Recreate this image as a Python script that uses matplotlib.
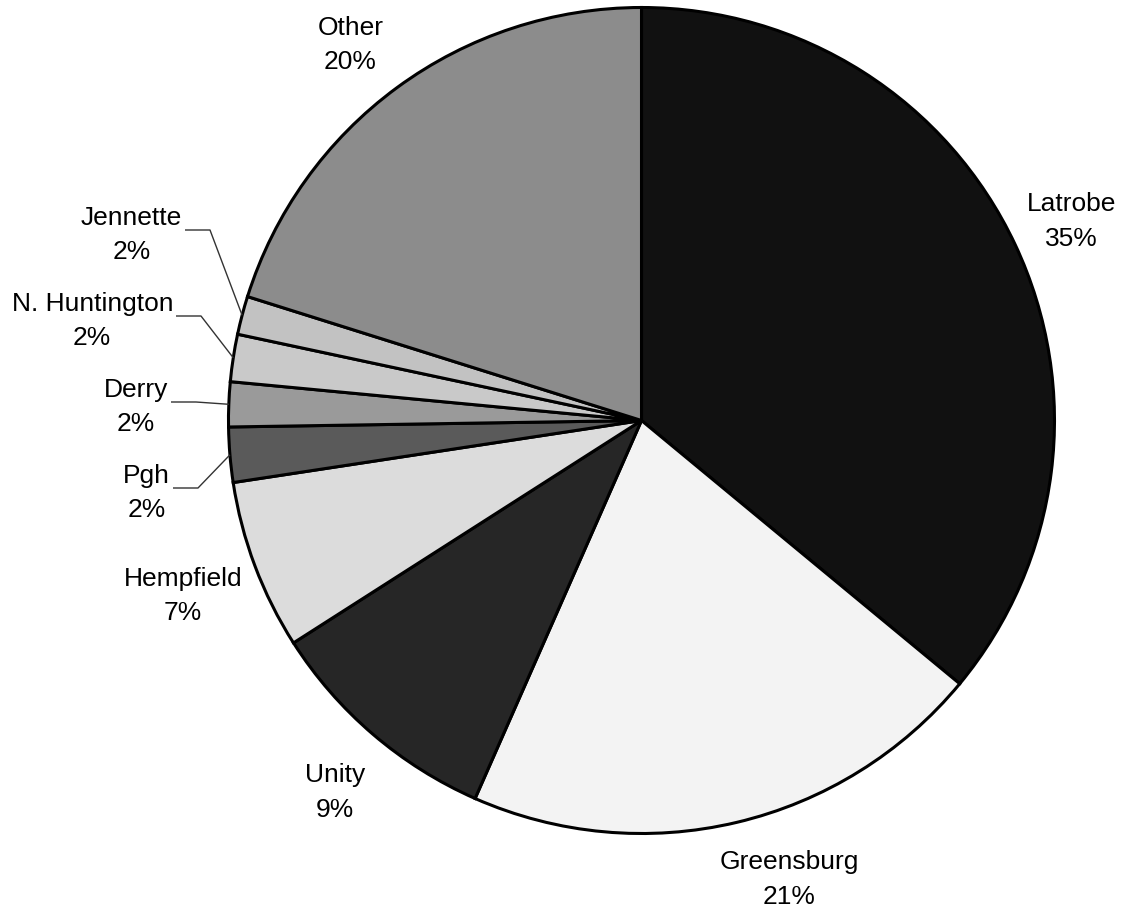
import numpy as np
import matplotlib
matplotlib.use("Agg")
import matplotlib.pyplot as plt

# share of customers by town (slice order, clockwise from 12 o'clock)
towns = ["Latrobe", "Greensburg", "Unity", "Hempfield", "Pgh", "Derry",
         "N. Huntington", "Jennette", "Other"]
shares = [36.0, 20.6, 9.35, 6.65, 2.15, 1.75, 1.85, 1.5, 20.15]
pct_labels = ["35%", "21%", "9%", "7%", "2%", "2%", "2%", "2%", "20%"]
fills = ["#111111", "#f3f3f3", "#262626", "#dcdcdc", "#5a5a5a", "#9a9a9a",
         "#c9c9c9", "#c2c2c2", "#8c8c8c"]

W, H = 1121, 907
cx, cy, R = 641.5, H - 420.5, 413

plt.rcParams["font.family"] = ["Liberation Sans", "DejaVu Sans"]

fig = plt.figure(figsize=(W / 100, H / 100), dpi=100)
ax = fig.add_axes([0, 0, 1, 1])

wedges, _ = ax.pie(shares, colors=fills, startangle=90, counterclock=False,
                   center=(cx, cy), radius=R,
                   wedgeprops=dict(edgecolor="black", linewidth=2.2))

ax.set_xlim(0, W)
ax.set_ylim(0, H)
ax.set_aspect("equal")
ax.axis("off")

fs = 19
ls = 1.55
# outer labels: radius factor and a small pixel nudge (dx, dy up)
big = {0: (1.15, 0, -3), 1: (1.16, 37, 7), 2: (1.16, 5, -8),
       3: (1.186, 0, -3), 8: (1.155, -9, -9)}
# small left labels with leader lines: right edge of text, leader y (pixels from top)
small = {4: (170, 488), 5: (168, 402), 6: (173, 316), 7: (182, 230)}

for i, w in enumerate(wedges):
    mid = np.deg2rad((w.theta1 + w.theta2) / 2)
    ux, uy = np.cos(mid), np.sin(mid)
    text = towns[i] + "\n" + pct_labels[i]
    if i in big:
        f, dx, dy = big[i]
        ax.text(cx + f * R * ux + dx, cy + f * R * uy + dy, text,
                ha="center", va="center", fontsize=fs, linespacing=ls)
    else:
        right, ly = small[i]
        ly = H - ly
        # va=baseline sits on the last line; leader runs just under the first line
        ax.text(right, ly + 6 - 35, text, ha="right", va="baseline",
                multialignment="center", fontsize=fs, linespacing=ls)
        ex, ey = cx + R * ux, cy + R * uy
        ax.plot([right + 3, right + 28, ex], [ly, ly, ey],
                color="#333333", lw=1.0, solid_capstyle="butt")

fig.savefig("out.png", dpi=100)
